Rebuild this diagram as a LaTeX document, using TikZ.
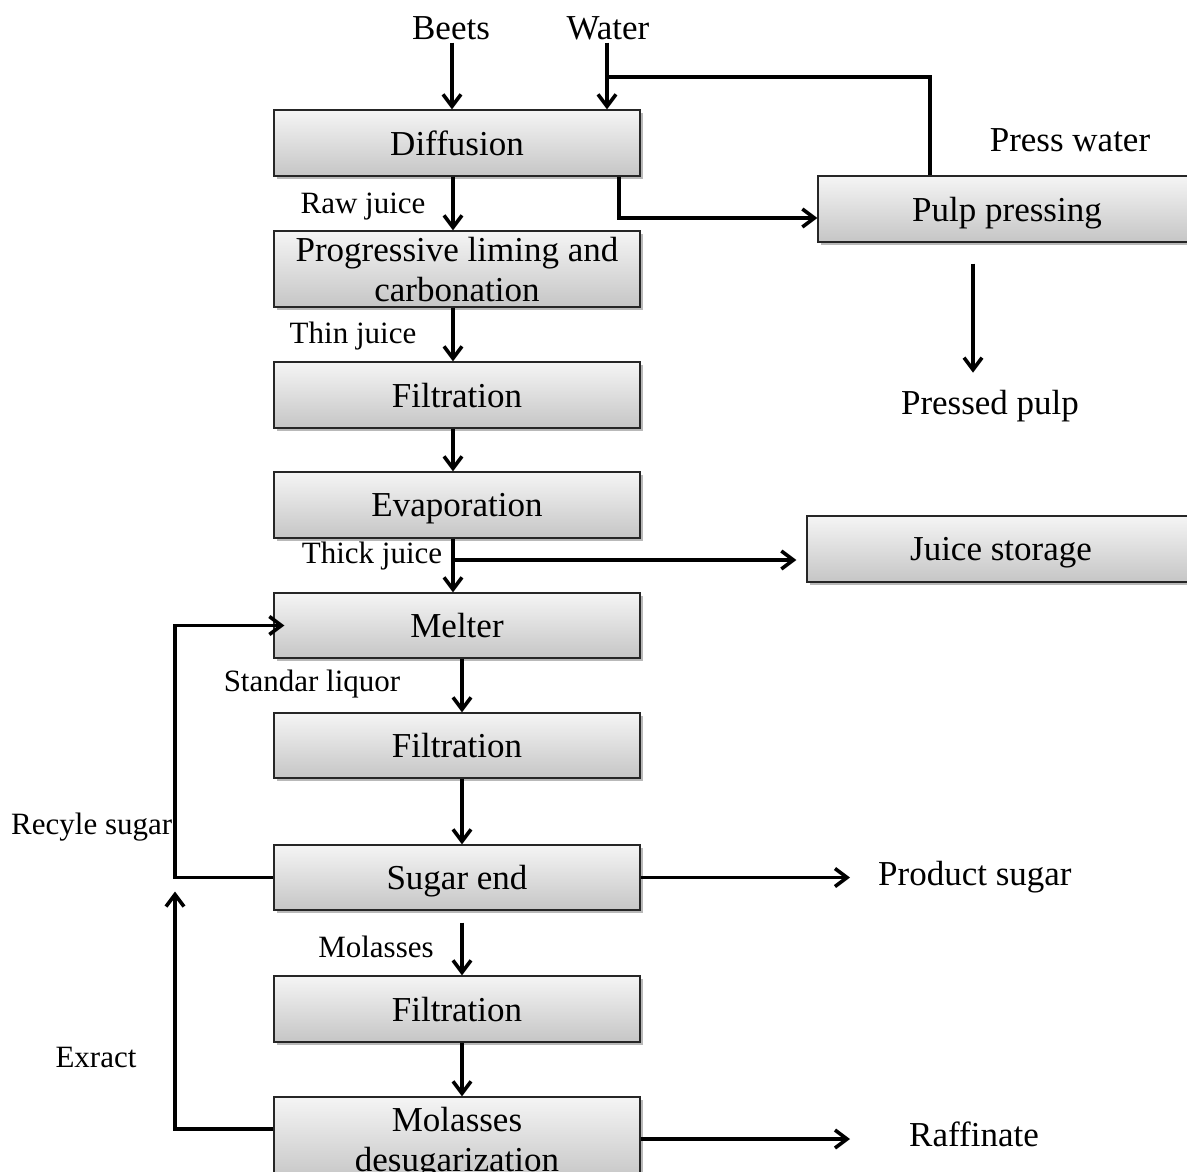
\documentclass[tikz,border=0pt]{standalone}
\usepackage{fontspec}
\setmainfont{Liberation Serif}
\usetikzlibrary{arrows.meta,shadows}
\begin{document}
\begin{tikzpicture}[x=1pt,y=-1pt,
  procbox/.style={rectangle,draw=black!85,line width=1.3pt,top color=gray!8,bottom color=gray!45,
    drop shadow={shadow xshift=2.5pt,shadow yshift=-2.5pt,fill=black!55},
    minimum width=366pt,inner sep=0pt,align=center,text depth=0pt,font=\fontsize{35}{40}\selectfont},
  bigtxt/.style={inner sep=0pt,text depth=0pt,font=\fontsize{35}{40}\selectfont},
  smalltxt/.style={inner sep=0pt,text depth=0pt,font=\fontsize{31}{36}\selectfont},
  flow/.style={line width=3.6pt,-{Straight Barb[length=12pt,width=18pt]}},
  plain/.style={line width=3.6pt}]
\useasboundingbox (0,0) rectangle (1187,1171);
\clip (0,0) rectangle (1187,1171);
% boxes
\node[procbox,minimum height=66pt] (diff) at (457,143) {Diffusion};
\node[procbox,minimum height=76pt] (prog) at (457,269) {Progressive liming and\\carbonation};
\node[procbox,minimum height=66pt] (filt1) at (457,395) {Filtration};
\node[procbox,minimum height=66pt] (evap) at (457,505) {Evaporation};
\node[procbox,minimum height=65pt] (melt) at (457,625.5) {Melter};
\node[procbox,minimum height=65pt] (filt2) at (457,745.5) {Filtration};
\node[procbox,minimum height=65pt] (sugar) at (457,877.5) {Sugar end};
\node[procbox,minimum height=66pt] (filt3) at (457,1009) {Filtration};
\node[procbox,minimum height=84pt] (mdes) at (457,1139) {Molasses\\desugarization};
\node[procbox,minimum height=66pt,minimum width=378pt] (pulp) at (1007,209) {Pulp pressing};
\node[procbox,minimum height=66pt,minimum width=388pt] (juice) at (1001,549) {Juice storage};
% texts
\node[bigtxt] (beets) at (451,28) {Beets};
\node[bigtxt] (water) at (608,28) {Water};
\node[bigtxt] (presswater) at (1070,140) {Press water};
\node[bigtxt] (pressedpulp) at (990,402) {Pressed pulp};
\node[bigtxt,anchor=west] (product) at (878,873) {Product sugar};
\node[bigtxt,anchor=west] (raff) at (909,1134) {Raffinate};
\node[smalltxt] (raw) at (363,203) {Raw juice};
\node[smalltxt] (thin) at (353,333) {Thin juice};
\node[smalltxt] (thick) at (372,553) {Thick juice};
\node[smalltxt] (standar) at (312,681) {Standar liquor};
\node[smalltxt] (molasses) at (376,947) {Molasses};
\node[smalltxt,anchor=west] (recycle) at (11,824) {Recyle sugar};
\node[smalltxt] (exract) at (96,1057) {Exract};
% helper coordinates
\coordinate (ca) at (453,0);
\coordinate (cb) at (462,0);
\coordinate (lx) at (175,0);
\coordinate (pw) at (930,0);
\coordinate (wj) at (607,77);
\coordinate (dp) at (619,0);
\coordinate (ppx) at (973,0);
% top inputs
\draw[flow] ([yshift=-3pt]beets.south -| 452,0) -- (diff.north -| 452,0);
\draw[flow] ([yshift=-3pt]water.south -| wj) -- (diff.north -| wj);
\draw[plain] (pulp.north -| pw) -- (pw |- wj) -- (wj);
\draw[flow] (diff.south -| dp) |- ([yshift=-9pt]pulp.west);
\draw[flow] ([yshift=-21pt]pulp.south -| ppx) -- ([yshift=17pt]pressedpulp.north -| ppx);
% main column
\draw[flow] (diff.south -| ca) -- (prog.north -| ca);
\draw[flow] (prog.south -| ca) -- (filt1.north -| ca);
\draw[flow] (filt1.south -| ca) -- (evap.north -| ca);
\draw[flow] (evap.south -| ca) -- (melt.north -| ca);
\draw[flow] (ca |- 0,560) -- ([xshift=-10pt,yshift=-11pt]juice.west);
\draw[flow] (melt.south -| cb) -- (filt2.north -| cb);
\draw[flow] (filt2.south -| cb) -- (sugar.north -| cb);
\draw[flow] ([yshift=-12pt]sugar.south -| cb) -- (filt3.north -| cb);
\draw[flow] (filt3.south -| cb) -- (mdes.north -| cb);
% side flows
\draw[flow] (sugar.west) -| (lx |- melt.west) -- ([xshift=11pt]melt.west);
\draw[flow] ([yshift=10pt]mdes.west) -| ([yshift=-14pt]lx |- sugar.west);
\draw[flow] (sugar.east) -- ([xshift=-28pt]product.west |- sugar.east);
\draw[flow] (mdes.east) -- ([xshift=-59pt]raff.west |- mdes.east);
\end{tikzpicture}
\end{document}
